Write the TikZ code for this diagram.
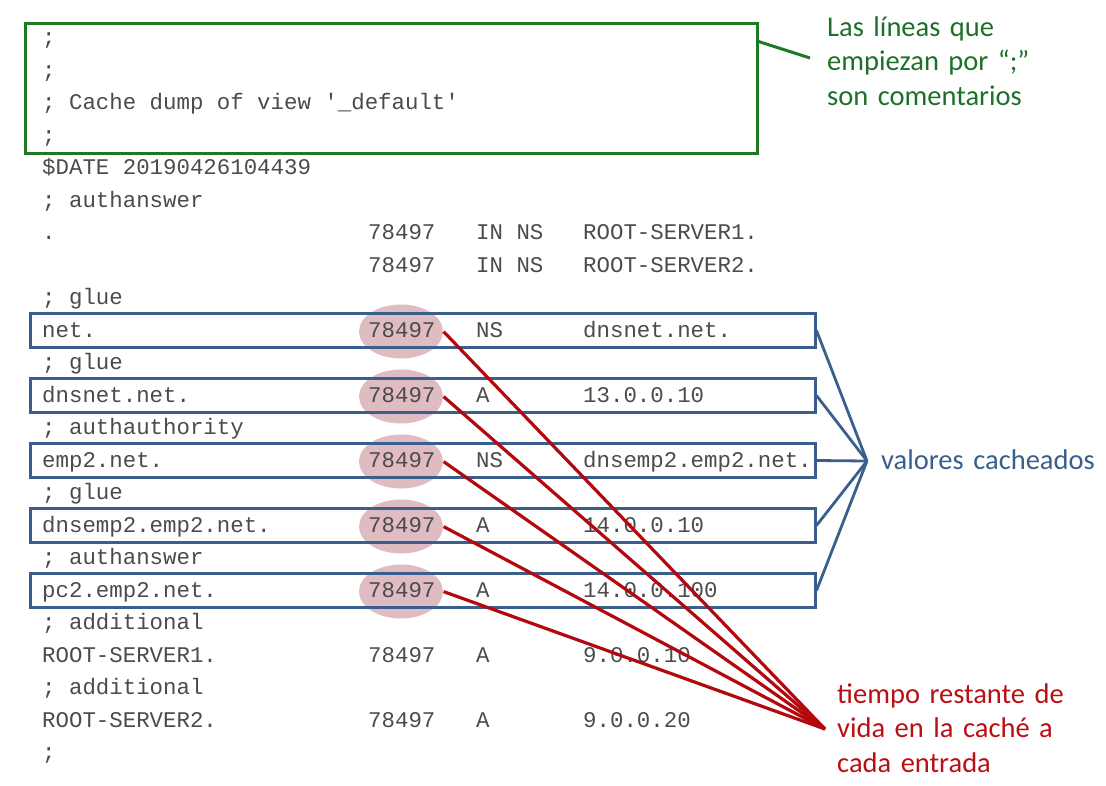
\documentclass[tikz,border=0pt]{standalone}
\usepackage{fontspec}
\setmainfont{Carlito}
\setmonofont{Liberation Mono}
\usetikzlibrary{shapes.geometric,calc}
\definecolor{monoc}{RGB}{75,75,75}
\definecolor{bluec}{RGB}{58,95,140}
\definecolor{greenc}{RGB}{28,122,36}
\definecolor{greent}{RGB}{30,112,40}
\definecolor{redc}{RGB}{178,8,14}
\definecolor{redt}{RGB}{185,15,20}
\definecolor{pinkc}{RGB}{223,188,193}
\begin{document}
\begin{tikzpicture}[x=1pt,y=-1pt,
  mono/.style={anchor=base west,inner sep=0pt,font=\ttfamily\fontsize{22.4}{26}\selectfont,text=monoc},
  bluebox/.style={draw=bluec,line width=3pt,minimum width=785pt,minimum height=34pt,inner sep=0pt},
  greenbox/.style={draw=greenc,line width=3pt,minimum width=732pt,minimum height=130pt,inner sep=0pt},
  pinkell/.style={ellipse,fill=pinkc,minimum width=84pt,minimum height=54pt,inner sep=0pt},
  notelabel/.style={anchor=base west,inner sep=0pt,align=left,text width=290pt,font=\fontsize{28.5}{34.8}\selectfont},
  redline/.style={draw=redc,line width=3.2pt},
  blueline/.style={draw=bluec,line width=2.8pt},
  greenline/.style={draw=greenc,line width=3pt}]
\useasboundingbox (0,0) rectangle (1106,785);

% pink highlights behind the TTL values
\node[pinkell] (e10) at (401,331.5) {};
\node[pinkell] (e12) at (401,396.5) {};
\node[pinkell] (e14) at (401,461.5) {};
\node[pinkell] (e16) at (401,526.5) {};
\node[pinkell] (e18) at (401,591.5) {};

% green comment box
\node[greenbox] (gb) at (391,88) {};

% blue boxes
\node[bluebox] (b10) at (422.5,330.5) {};
\node[bluebox] (b12) at (422.5,395.5) {};
\node[bluebox] (b14) at (422.5,460.5) {};
\node[bluebox] (b16) at (422.5,525.5) {};
\node[bluebox] (b18) at (422.5,590.5) {};

% text rows
\node[mono] (r1) at (42,44.5) {;};
\node[mono] (r2) at (42,77) {;};
\node[mono] (r3) at (42,109.5) {; Cache dump of view '\_default'};
\node[mono] (r4) at (42,142) {;};
\node[mono] (r5) at (42,174.5) {\$DATE 20190426104439};
\node[mono] (r6) at (42,207) {; authanswer};
\node[mono] (r7a) at (42,239.5) {.};
\node[mono] (r7b) at (368,239.5) {78497};
\node[mono] (r7c) at (476,239.5) {IN NS};
\node[mono] (r7d) at (583,239.5) {ROOT-SERVER1.};
\node[mono] (r8b) at (368,272) {78497};
\node[mono] (r8c) at (476,272) {IN NS};
\node[mono] (r8d) at (583,272) {ROOT-SERVER2.};
\node[mono] (r9) at (42,304.5) {; glue};
\node[mono] (r10a) at (42,337) {net.};
\node[mono] (r10b) at (368,337) {78497};
\node[mono] (r10c) at (476,337) {NS};
\node[mono] (r10d) at (583,337) {dnsnet.net.};
\node[mono] (r11) at (42,369.5) {; glue};
\node[mono] (r12a) at (42,402) {dnsnet.net.};
\node[mono] (r12b) at (368,402) {78497};
\node[mono] (r12c) at (476,402) {A};
\node[mono] (r12d) at (583,402) {13.0.0.10};
\node[mono] (r13) at (42,434.5) {; authauthority};
\node[mono] (r14a) at (42,467) {emp2.net.};
\node[mono] (r14b) at (368,467) {78497};
\node[mono] (r14c) at (476,467) {NS};
\node[mono] (r14d) at (583,467) {dnsemp2.emp2.net.};
\node[mono] (r15) at (42,499.5) {; glue};
\node[mono] (r16a) at (42,532) {dnsemp2.emp2.net.};
\node[mono] (r16b) at (368,532) {78497};
\node[mono] (r16c) at (476,532) {A};
\node[mono] (r16d) at (583,532) {14.0.0.10};
\node[mono] (r17) at (42,564.5) {; authanswer};
\node[mono] (r18a) at (42,597) {pc2.emp2.net.};
\node[mono] (r18b) at (368,597) {78497};
\node[mono] (r18c) at (476,597) {A};
\node[mono] (r18d) at (583,597) {14.0.0.100};
\node[mono] (r19) at (42,629.5) {; additional};
\node[mono] (r20a) at (42,662) {ROOT-SERVER1.};
\node[mono] (r20b) at (368,662) {78497};
\node[mono] (r20c) at (476,662) {A};
\node[mono] (r20d) at (583,662) {9.0.0.10};
\node[mono] (r21) at (42,694.5) {; additional};
\node[mono] (r22a) at (42,727) {ROOT-SERVER2.};
\node[mono] (r22b) at (368,727) {78497};
\node[mono] (r22c) at (476,727) {A};
\node[mono] (r22d) at (583,727) {9.0.0.20};
\node[mono] (r23) at (42,759.5) {;};

% annotations
\node[notelabel,text=greent] (gtxt) at (827,36) {Las líneas que\\empiezan por “;”\\son comentarios};
\node[notelabel,text=bluec] (btxt) at (881,469) {valores cacheados};
\node[notelabel,text=redt] (rtxt) at (837,703) {tiempo restante de\\vida en la caché a\\cada entrada};

\coordinate (gl) at (810,58);
\coordinate (vc) at (867,461);
\coordinate (tt) at (825,729);

% green leader
\draw[greenline] ($(gb.north east)+(0,20)$) -- (gl);

% blue connectors
\foreach \b in {b10,b12,b14,b16,b18}
  \draw[blueline] (\b.east) -- (vc);

% red connectors
\foreach \r in {r10b,r12b,r14b,r16b,r18b}
  \draw[redline] ([xshift=8pt,yshift=-2pt]\r.east) -- (tt);
\end{tikzpicture}
\end{document}
